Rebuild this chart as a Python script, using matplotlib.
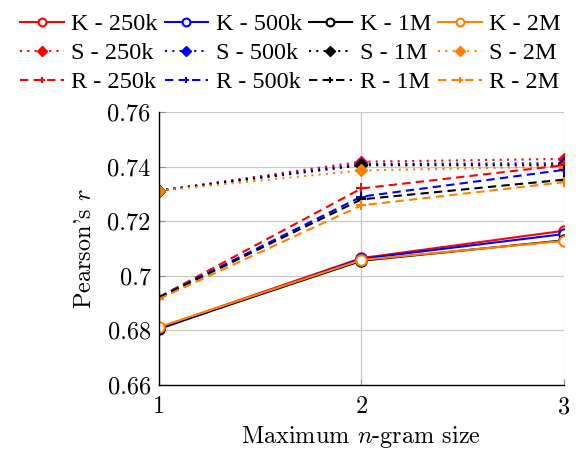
import matplotlib
matplotlib.use("Agg")
import matplotlib.pyplot as plt

plt.rcParams['font.family'] = ['cmr10', 'DejaVu Serif']
plt.rcParams['mathtext.fontset'] = 'cm'
plt.rcParams['axes.formatter.use_mathtext'] = True

x = [1, 2, 3]
sizes = ['250k', '500k', '1M', '2M']
colors = ['#ff0000', '#0000ff', '#000000', '#ff8000']

K_250k = [0.681, 0.7065, 0.7165]
K_500k = [0.6805, 0.7062, 0.7153]
K_1M = [0.6808, 0.7055, 0.7130]
K_2M = [0.6812, 0.7058, 0.7128]

S_250k = [0.7312, 0.7418, 0.7428]
S_500k = [0.7312, 0.7410, 0.7412]
S_1M = [0.7312, 0.7405, 0.7405]
S_2M = [0.7312, 0.7386, 0.7400]

R_250k = [0.6922, 0.7320, 0.7405]
R_500k = [0.6922, 0.7290, 0.7388]
R_1M = [0.6920, 0.7280, 0.7352]
R_2M = [0.6915, 0.7258, 0.7343]

yticks = [0.66, 0.68, 0.70, 0.72, 0.74, 0.76]
ytick_labels = ['0.66', '0.68', '0.7', '0.72', '0.74', '0.76']
xticks = [1, 2, 3]

K = [K_250k, K_500k, K_1M, K_2M]
S = [S_250k, S_500k, S_1M, S_2M]
R = [R_250k, R_500k, R_1M, R_2M]

FS = 17.5
LFS = 17.5

fig = plt.figure(figsize=(5.79, 4.51), dpi=100)
ax = fig.add_axes([0.2746, 0.1463, 0.974 - 0.2746, 0.7517 - 0.1463])

handles = {}
for i, s in enumerate(sizes):
    h, = ax.plot(x, K[i], color=colors[i], lw=1.5, marker='o', ms=7.5,
                 mfc='white', mew=1.5, label=f'K - {s}')
    handles[('K', i)] = h
for i, s in enumerate(sizes):
    h, = ax.plot(x, S[i], color=colors[i], lw=1.5, ls=(0, (1, 2.5)),
                 marker='D', ms=6.5, label=f'S - {s}')
    handles[('S', i)] = h
for i, s in enumerate(sizes):
    h, = ax.plot(x, R[i], color=colors[i], lw=1.5, ls=(0, (4, 2.5)),
                 marker='+', ms=6.5, mew=1.5, label=f'R - {s}')
    handles[('R', i)] = h

ax.set_xlim(1, 3)
ax.set_ylim(0.66, 0.76)
ax.set_yticks(yticks)
ax.set_yticklabels(ytick_labels)
ax.set_xticks(xticks)
ax.set_xticklabels([str(t) for t in xticks])
ax.grid(True, color='#c8c8c8', lw=0.9)
ax.set_axisbelow(True)
for sp in ['top', 'right']:
    ax.spines[sp].set_visible(False)
ax.spines['left'].set_color('black')
ax.spines['bottom'].set_color('black')
ax.spines['left'].set_linewidth(1.0)
ax.spines['bottom'].set_linewidth(1.0)
ax.spines['left'].set_zorder(5)
ax.tick_params(axis='both', direction='in', length=4, color='#909090',
               labelsize=FS)
ax.tick_params(axis='x', pad=8)
ax.tick_params(axis='y', pad=6)

ax.set_xlabel('Maximum $n$-gram size', fontsize=FS, labelpad=4)
ax.set_ylabel("Pearson's $r$", fontsize=FS, labelpad=8)

order = []
for i in range(4):
    for t in ['K', 'S', 'R']:
        order.append(handles[(t, i)])
fig.legend(order, [h.get_label() for h in order], ncol=4, frameon=False,
           loc='upper left', bbox_to_anchor=(0.012, 1.0),
           prop={'family': ['Liberation Serif', 'DejaVu Serif'], 'size': LFS},
           handlelength=1.8, handletextpad=0.3, columnspacing=0.28,
           labelspacing=0.28, borderaxespad=0.15, markerscale=0.75)

fig.savefig('out.png', dpi=100)
